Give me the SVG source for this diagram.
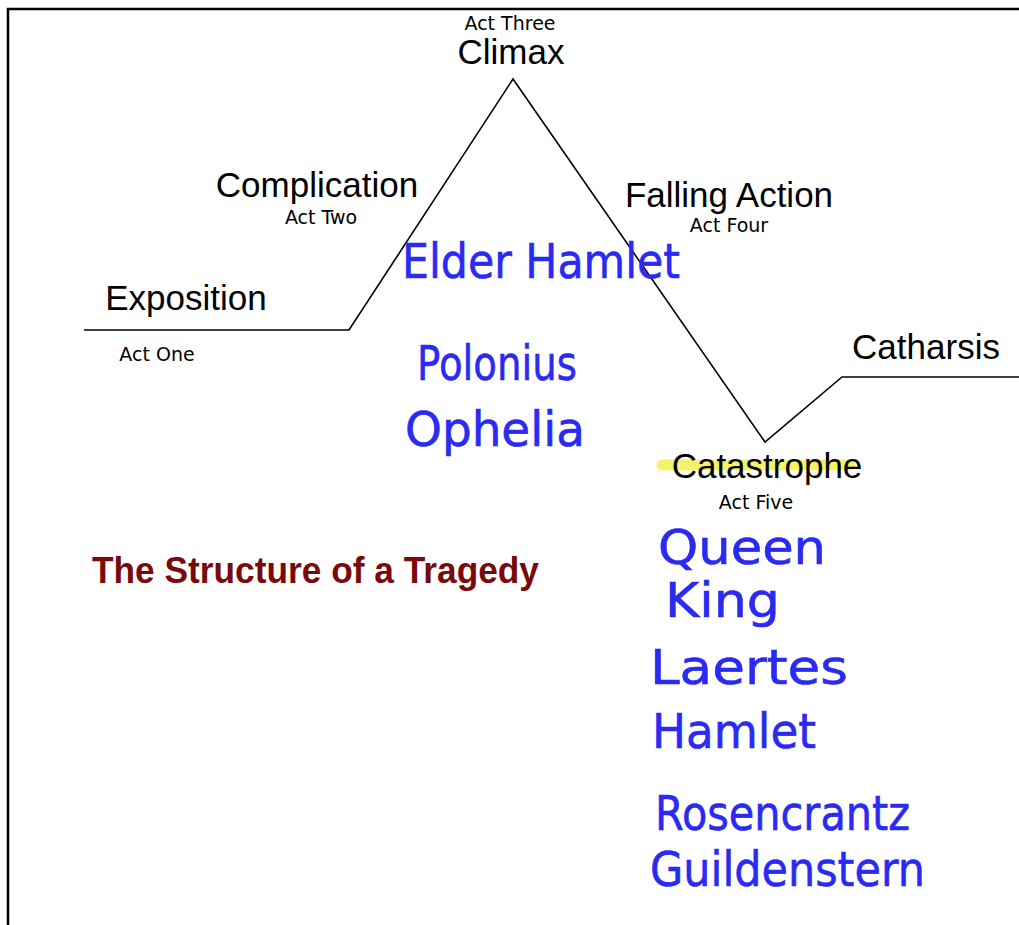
<svg xmlns="http://www.w3.org/2000/svg" width="1019" height="925" viewBox="0 0 1019 925">
<style>
.lbl{font-family:"Liberation Sans",Arial,sans-serif;font-size:35px;fill:#000;text-anchor:middle}
.act{font-family:"DejaVu Sans",Verdana,sans-serif;font-size:19px;fill:#000;text-anchor:middle}
.hand{font-family:"DejaVu Sans",sans-serif;font-size:48px;fill:#2a2af2;stroke:#2a2af2;stroke-width:0.6}
.title{font-family:"Liberation Sans",Arial,sans-serif;font-size:37px;font-weight:bold;fill:#7a0a0a}
</style>
<rect width="1019" height="925" fill="#fff"/>
<g id="frame">
<path d="M8,925 V9 H1019" fill="none" stroke="#000" stroke-width="2.5"/>
</g>
<g id="connectors">
<polyline points="84,330 349,330 513,79 765,442 842,377 1019,377" fill="none" stroke="#000" stroke-width="1.6"/>
</g>
<g id="highlight">
<line x1="662" y1="465" x2="850" y2="465" stroke="#f2f250" stroke-width="11" stroke-linecap="round" opacity="0.85"/>
</g>
<g id="climax"><text class="act" x="510" y="30">Act Three</text><text class="lbl" x="511" y="64">Climax</text></g>
<g id="complication"><text class="lbl" x="317" y="197">Complication</text><text class="act" x="321" y="224">Act Two</text></g>
<g id="falling"><text class="lbl" x="729" y="207">Falling Action</text><text class="act" x="729" y="232">Act Four</text></g>
<g id="exposition"><text class="lbl" x="186" y="310">Exposition</text><text class="act" x="157" y="361">Act One</text></g>
<g id="catharsis"><text class="lbl" x="926" y="359">Catharsis</text></g>
<g id="catastrophe"><text class="lbl" x="767" y="478">Catastrophe</text><text class="act" x="756" y="509">Act Five</text></g>
<g id="title"><text class="title" x="92" y="583" textLength="447" lengthAdjust="spacingAndGlyphs">The Structure of a Tragedy</text></g>
<g id="handwriting">
<text class="hand" x="402" y="278" textLength="278" lengthAdjust="spacingAndGlyphs">Elder Hamlet</text>
<text class="hand" x="417" y="380" textLength="160" lengthAdjust="spacingAndGlyphs">Polonius</text>
<text class="hand" x="405" y="446" textLength="180" lengthAdjust="spacingAndGlyphs">Ophelia</text>
<text class="hand" x="658" y="564" textLength="168" lengthAdjust="spacingAndGlyphs">Queen</text>
<text class="hand" x="665" y="617" textLength="115" lengthAdjust="spacingAndGlyphs">King</text>
<text class="hand" x="650" y="684" textLength="198" lengthAdjust="spacingAndGlyphs">Laertes</text>
<text class="hand" x="652" y="748" textLength="164" lengthAdjust="spacingAndGlyphs">Hamlet</text>
<text class="hand" x="655" y="830" textLength="255" lengthAdjust="spacingAndGlyphs">Rosencrantz</text>
<text class="hand" x="650" y="886" textLength="275" lengthAdjust="spacingAndGlyphs">Guildenstern</text>
</g>
</svg>
